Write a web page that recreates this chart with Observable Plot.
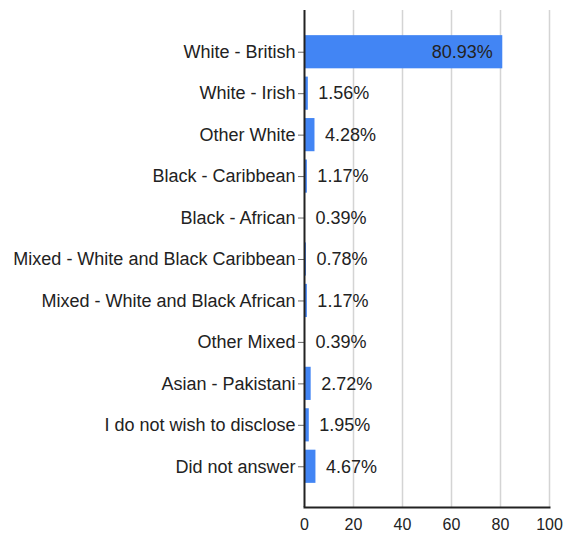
<!DOCTYPE html>
<html>
<head>
<meta charset="utf-8">
<script src="https://cdn.jsdelivr.net/npm/d3@7"></script>
<script src="https://cdn.jsdelivr.net/npm/@observablehq/plot@0.6"></script>
<style>
  html, body { margin: 0; padding: 0; background: #fff; }
  #chart svg { font-family: "Liberation Sans", Arial, sans-serif; }
</style>
</head>
<body>
<div id="chart"></div>
<script>
const categories = [
  "White - British",
  "White - Irish",
  "Other White",
  "Black - Caribbean",
  "Black - African",
  "Mixed - White and Black Caribbean",
  "Mixed - White and Black African",
  "Other Mixed",
  "Asian - Pakistani",
  "I do not wish to disclose",
  "Did not answer"
];
const values = [80.93, 1.56, 4.28, 1.17, 0.39, 0.78, 1.17, 0.39, 2.72, 1.95, 4.67];
const xTicks = [0, 20, 40, 60, 80, 100];
const gridTicks = [20, 40, 60, 80, 100];

const data = categories.map((c, i) => ({cat: c, value: values[i]}));
const fmt = d => d.value.toFixed(2) + "%";

const chart = Plot.plot({
  width: 563,
  height: 536,
  marginLeft: 304,
  marginRight: 14,
  marginTop: 10,
  marginBottom: 29,
  insetTop: 21,
  insetBottom: 20,
  style: {fontFamily: '"Liberation Sans", Arial, sans-serif', color: "#222", background: "#fff"},
  x: {domain: [0, 100], ticks: xTicks},
  y: {domain: categories, paddingInner: 0.2, paddingOuter: 0.1, round: false},
  marks: [
    Plot.ruleX(gridTicks, {stroke: "#d4d4d4", strokeWidth: 1.5}),
    Plot.barX(data, {x: "value", y: "cat", fill: "#4285f4"}),
    Plot.text(data.filter(d => d.value > 50), {x: "value", y: "cat", text: fmt, textAnchor: "end", dx: -10, fontSize: 18, fill: "#222"}),
    Plot.text(data.filter(d => d.value <= 50), {x: "value", y: "cat", text: fmt, textAnchor: "start", dx: 10, fontSize: 18, fill: "#222"}),
    Plot.axisX({ticks: xTicks, tickSize: 0, tickPadding: 11, fontSize: 16, label: null, fill: "#222"}),
    Plot.axisY({tickSize: 6, tickPadding: 3, fontSize: 18, label: null, fill: "#222", stroke: "#666"}),
    Plot.ruleX([0], {stroke: "#222", strokeWidth: 2}),
    Plot.frame({anchor: "bottom", stroke: "#222", strokeWidth: 2})
  ]
});
document.getElementById("chart").appendChild(chart);
</script>
</body>
</html>
